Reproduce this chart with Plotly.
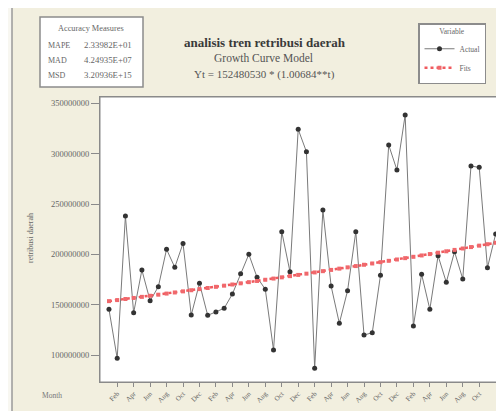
import plotly.graph_objects as go

# ---- data ----
t_index = list(range(1, 49))

actual = [145400000, 96700000, 238100000, 142000000, 184400000, 153900000,
          167800000, 205000000, 187100000, 210900000, 139700000, 171200000,
          139400000, 142700000, 146400000, 160600000, 180800000, 200000000,
          177200000, 165300000, 105000000, 222500000, 182700000, 324200000,
          301900000, 86800000, 244000000, 168500000, 131500000, 163900000,
          222500000, 119900000, 122100000, 179200000, 308600000, 283800000,
          338400000, 128800000, 180200000, 145400000, 198600000, 172200000,
          202600000, 175500000, 287700000, 286400000, 186700000, 220200000]

fits = [153520000, 154570000, 155630000, 156690000, 157760000, 158840000,
        159930000, 161020000, 162120000, 163230000, 164350000, 165470000,
        166600000, 167740000, 168890000, 170050000, 171210000, 172380000,
        173560000, 174750000, 175940000, 177140000, 178360000, 179580000,
        180810000, 182040000, 183290000, 184540000, 185810000, 187080000,
        188360000, 189650000, 190940000, 192250000, 193560000, 194890000,
        196220000, 197560000, 198910000, 200270000, 201640000, 203020000,
        204410000, 205810000, 207220000, 208640000, 210060000, 211500000]

tick_positions = list(range(2, 47, 2))
tick_labels = ["Feb", "Apr", "Jun", "Aug", "Oct", "Dec"] * 4
tick_labels = tick_labels[:len(tick_positions)]

y_ticks = [100000000, 150000000, 200000000, 250000000, 300000000, 350000000]

title_text = "analisis tren retribusi daerah"
subtitle_1 = "Growth Curve Model"
subtitle_2 = "Yt = 152480530 * (1.00684**t)"
acc_title = "Accuracy Measures"
acc_names = ["MAPE", "MAD", "MSD"]
acc_values = ["2.33982E+01", "4.24935E+07", "3.20936E+15"]

# ---- layout geometry (window pixels; the page body adds an 8px offset) ----
OFF = 8
WIN_W, WIN_H = 504, 411
W, H = WIN_W - OFF, WIN_H - OFF
PLOT_L, PLOT_R, PLOT_T, PLOT_B = 100, 502, 97, 382  # window coords
L, R = PLOT_L - OFF, WIN_W - PLOT_R
T, B = PLOT_T - OFF, WIN_H - PLOT_B
PW, PH = PLOT_R - PLOT_L, PLOT_B - PLOT_T


def px(x):
    return (x - PLOT_L) / PW


def py(y):
    return (PLOT_B - y) / PH


FONT = "Liberation Serif"
BEIGE = "#f2efdf"
GREY = "#8a8a8a"

fig = go.Figure()
fig.add_trace(go.Scatter(
    x=t_index, y=actual, name="Actual", mode="lines+markers",
    line=dict(color="#7a7a7a", width=1),
    marker=dict(color="#333333", size=5, symbol="circle"),
))
fig.add_trace(go.Scatter(
    x=t_index, y=fits, name="Fits", mode="lines+markers",
    line=dict(color="#f05a5e", width=2.5, dash="dot"),
    marker=dict(color="#f0686c", size=4, symbol="square"),
))

shapes = [
    # beige frame
    dict(type="rect", xref="paper", yref="paper", layer="below",
         x0=px(12), x1=px(530), y0=py(430), y1=py(5),
         fillcolor=BEIGE, line=dict(color="#9a9a9a", width=1.5)),
    # white plot area
    dict(type="rect", xref="paper", yref="paper", layer="below",
         x0=0, x1=1, y0=0, y1=1, fillcolor="white",
         line=dict(color=GREY, width=1)),
    # accuracy box
    dict(type="rect", xref="paper", yref="paper",
         x0=px(40), x1=px(143), y0=py(87), y1=py(17),
         fillcolor="white", line=dict(color="#8c8c8c", width=1.5)),
]

annotations = [
    dict(text="<b>" + title_text + "</b>", x=px(265), y=py(42),
         font=dict(size=13, color="#3a3a3a", family=FONT)),
    dict(text=subtitle_1, x=px(263), y=py(58),
         font=dict(size=11.5, color="#555555", family=FONT)),
    dict(text=subtitle_2, x=px(264), y=py(74),
         font=dict(size=11, color="#555555", family=FONT)),
    dict(text=acc_title, x=px(90.5), y=py(29),
         font=dict(size=8.3, color="#666666", family=FONT)),
    dict(text="retribusi daerah", x=px(30), y=py(238), textangle=-90,
         font=dict(size=8, color="#666666", family=FONT)),
    dict(text="Month", x=px(52), y=py(395),
         font=dict(size=7.5, color="#777777", family=FONT)),
]
for i, (n, v) in enumerate(zip(acc_names, acc_values)):
    yy = py(45 + i * 15)
    annotations.append(dict(text=n, x=px(46), y=yy, xanchor="left",
                            font=dict(size=8, color="#666666", family=FONT)))
    annotations.append(dict(text=v, x=px(82), y=yy, xanchor="left",
                            font=dict(size=8.8, color="#666666", family=FONT)))
for a in annotations:
    a.setdefault("xref", "paper")
    a.setdefault("yref", "paper")
    a.setdefault("showarrow", False)
    a.setdefault("xanchor", "center")
    a.setdefault("yanchor", "middle")

fig.update_layout(
    width=W, height=H,
    margin=dict(l=L, r=R, t=T, b=B, pad=0),
    paper_bgcolor="#f8f7f1",
    plot_bgcolor="white",
    font=dict(family=FONT, color="#666666", size=8),
    shapes=shapes,
    annotations=annotations,
    legend=dict(
        x=px(418), y=py(23), xanchor="left", yanchor="top",
        bgcolor="white", bordercolor="#8c8c8c", borderwidth=1.5,
        title=dict(text="Variable", side="top center",
                   font=dict(size=7.5, color="#666666", family=FONT)),
        font=dict(size=7.5, color="#666666", family=FONT),
        itemwidth=30, tracegroupgap=0,
    ),
    showlegend=True,
)
fig.update_xaxes(
    range=[-0.09, 48.77], tickmode="array", tickvals=tick_positions,
    ticktext=tick_labels, tickangle=-45, ticks="outside", ticklen=4,
    tickcolor=GREY, showline=True, linecolor=GREY, mirror=True,
    showgrid=False, zeroline=False,
    tickfont=dict(size=7, color="#666666", family=FONT),
)
fig.update_yaxes(
    range=[73200000, 356300000], tickmode="array", tickvals=y_ticks,
    tickformat="d", ticks="outside", ticklen=8, tickcolor=GREY,
    showline=True, linecolor=GREY, mirror=True, showgrid=False,
    zeroline=False, tickfont=dict(size=8.5, color="#666666", family=FONT),
)

fig.write_html("out.html")
